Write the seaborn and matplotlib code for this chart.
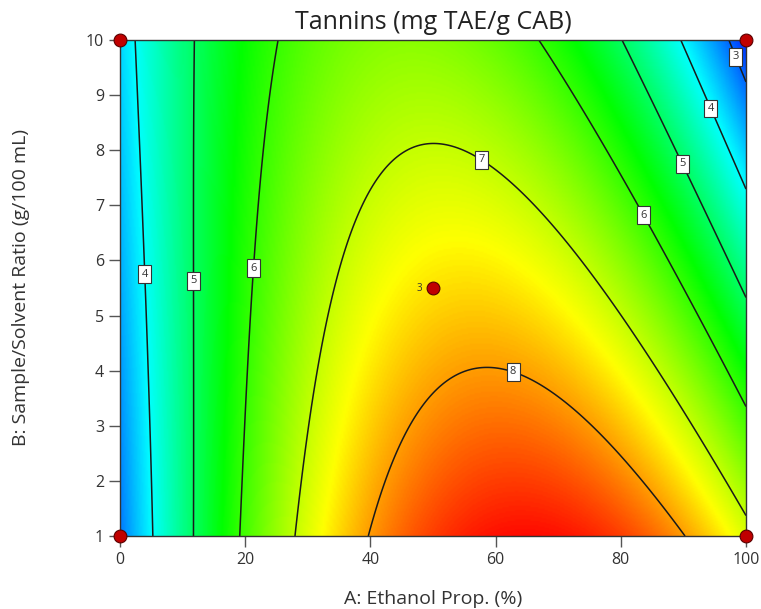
import numpy as np
import matplotlib
matplotlib.use("Agg")
import matplotlib.pyplot as plt
import seaborn as sns
from matplotlib.colors import LinearSegmentedColormap

# response surface model in coded units (a, b in [-1, 1]), fitted to the
# contour lines
term_names = ["1", "a", "b", "ab", "a2", "b2", "a2b", "ab2", "a3", "b3"]
coef = [7.5820, 0.7691, -0.9884, -1.2953, -3.4196, -0.0106,
        0.0038, -0.0061, -0.0187, -0.0119]

levels = [3, 4, 5, 6, 7, 8]
# where the boxed contour labels sit (A %, B g/100 mL)
label_a = [98.5, 4.0, 11.7, 21.3, 58.0, 63.0, 83.9, 90.1, 94.7]
label_b = [9.7, 5.75, 5.63, 5.86, 7.88, 4.05, 6.84, 7.77, 8.77]

design_a = [0, 0, 100, 100, 50]
design_b = [1, 10, 1, 10, 5.5]


def model(A, B):
    a = (A - 50) / 50
    b = (B - 5.5) / 4.5
    t = [np.ones_like(a), a, b, a * b, a**2, b**2, a**2 * b, a * b**2, a**3, b**3]
    return sum(c * x for c, x in zip(coef, t))


sns.set_style("ticks")
plt.rcParams['font.family'] = ['Open Sans', 'DejaVu Sans']

fig = plt.figure(figsize=(7.61, 6.09), dpi=100)
ax = fig.add_axes([120 / 761, 1 - 536 / 609, 626 / 761, 496 / 609])

ga = np.linspace(0, 100, 401)
gb = np.linspace(1, 10, 361)
AA, BB = np.meshgrid(ga, gb)
Z = model(AA, BB)

cmap = LinearSegmentedColormap.from_list(
    "de", [(0.0, "#0000ff"), (0.25, "#00ffff"), (0.5, "#00ff00"),
           (0.77, "#ffff00"), (1.0, "#ff0000")])
ax.imshow(Z, origin="lower", extent=[0, 100, 1, 10], aspect="auto",
          cmap=cmap, vmin=2.3, vmax=8.95, interpolation="bilinear")
cs = ax.contour(AA, BB, Z, levels=levels, colors="#1a1a1a", linewidths=1.1)
txts = ax.clabel(cs, fmt="%d", fontsize=8, inline=False,
                 manual=list(zip(label_a, label_b)))
for t in txts:
    t.set_rotation(0)
    t.set_bbox(dict(boxstyle="square,pad=0.3", fc="white", ec="#333333", lw=0.8))
    t.set_color("#333333")

sns.scatterplot(x=design_a, y=design_b, ax=ax, s=85, color="#c00000",
                edgecolor="#5a0000", linewidth=0.8, clip_on=False, zorder=5)
ax.text(48.3, 5.5, "3", fontsize=7, ha="right", va="center", color="#333333")

ax.set_xlim(0, 100)
ax.set_ylim(1, 10)
ax.set_xticks([0, 20, 40, 60, 80, 100])
ax.set_yticks(range(1, 11))
ax.tick_params(direction="out", length=8, width=1, color="#555555",
               labelsize=11.5, labelcolor="#333333")
for s in ax.spines.values():
    s.set_color("#333333")
    s.set_linewidth(1.0)
ax.set_xlabel("A: Ethanol Prop. (%)", fontsize=14, color="#333333", labelpad=16)
ax.set_ylabel("B: Sample/Solvent Ratio (g/100 mL)", fontsize=14, color="#333333",
              labelpad=40)
ax.set_title("Tannins (mg TAE/g CAB)", fontsize=18, color="#222222", pad=8)

fig.savefig("out.png", dpi=100)
